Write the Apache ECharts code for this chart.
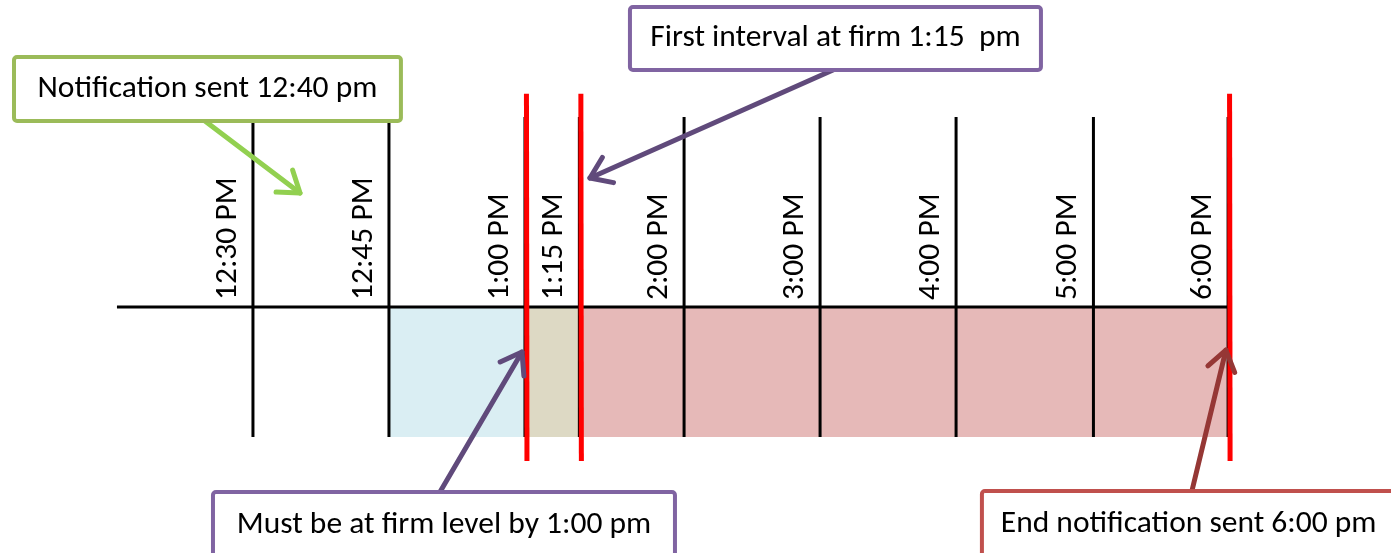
<!DOCTYPE html>
<html><head><meta charset="utf-8">
<script src="https://cdn.jsdelivr.net/npm/echarts@6/dist/echarts.min.js"></script>
<style>html,body{margin:0;padding:0;background:#fff}#c{width:1391px;height:553px}</style>
</head><body><div id="c"></div>
<script>
// ---- data ----
const tickLabels = ['12:30 PM','12:45 PM','1:00 PM','1:15 PM','2:00 PM','3:00 PM','4:00 PM','5:00 PM','6:00 PM'];
const tickPositions = [1.0, 2.0, 3.0, 3.4, 4.17, 5.17, 6.17, 7.18, 8.17]; // column boundary on the axis scale
const bandFrom = ['12:45 PM','1:00 PM','1:15 PM'];
const bandTo   = ['1:00 PM','1:15 PM','6:00 PM'];
const markerTimes = ['1:00 PM','1:15 PM','6:00 PM'];
const calloutTexts = ['Notification sent 12:40 pm','First interval at firm 1:15  pm','Must be at firm level by 1:00 pm','End notification sent 6:00 pm'];

// ---- layout / style ----
const FONT = '31.5px Carlito, Lato, sans-serif';
const posOf = t => tickPositions[tickLabels.indexOf(t)];
const bandColors = ['#DAEEF3','#DDD9C4','#E6B9B8'];
const lineTop = 1.462, lineBottom = -1.0;
const callouts = [
  {box:[-0.757,1.923,2.088,1.431], from:[0.647,1.431], to:[1.346,0.877], border:'#9BBB59', arrow:'#92D050'},
  {box:[3.772,2.308,6.794,1.823], from:[5.265,1.823], to:[3.478,0.992], border:'#8064A2', arrow:'#604A7B'},
  {box:[0.706,-1.423,4.103,-1.93], from:[2.375,-1.423], to:[2.978,-0.346], border:'#8064A2', arrow:'#604A7B'},
  {box:[6.36,-1.415,9.40,-1.93], from:[7.904,-1.415], to:[8.154,-0.331], border:'#C0504D', arrow:'#953735'}
];

const chart = echarts.init(document.getElementById('c'), null, {renderer:'canvas'});
const option = {
  animation:false,
  grid:{left:0,right:0,top:0,bottom:0},
  xAxis:{type:'value', min:-0.86, max:9.368, show:false},
  yAxis:{type:'value', min:-1.892, max:2.3615, show:false},
  series:[
    { // shaded bands
      type:'custom', z:1,
      data: bandFrom.map((f,i)=>[posOf(f), posOf(bandTo[i]), i]),
      renderItem(params, api){
        const a = api.coord([api.value(0), 0]);
        const b = api.coord([api.value(1), lineBottom]);
        return {type:'rect', shape:{x:a[0], y:a[1], width:b[0]-a[0], height:b[1]-a[1]},
                style:{fill:bandColors[api.value(2)]}};
      }
    },
    { // axis baseline
      type:'custom', z:2,
      data:[[0, tickPositions[tickPositions.length-1]]],
      renderItem(params, api){
        const a = api.coord([api.value(0), 0]);
        const b = api.coord([api.value(1), 0]);
        return {type:'line', shape:{x1:a[0],y1:a[1],x2:b[0]+1,y2:b[1]}, style:{stroke:'#000', lineWidth:3}};
      }
    },
    { // tick lines + rotated labels
      type:'custom', z:3,
      data: tickPositions.map(p=>[p, 0]),
      renderItem(params, api){
        const x = api.value(0);
        const t = api.coord([x, lineTop]);
        const b = api.coord([x, lineBottom]);
        const base = api.coord([x, 0]);
        return {type:'group', children:[
          {type:'line', shape:{x1:t[0],y1:t[1],x2:b[0],y2:b[1]}, style:{stroke:'#000', lineWidth:3}},
          {type:'text', x:base[0]-25, y:base[1]-7, rotation:Math.PI/2,
           style:{text:tickLabels[params.dataIndex], x:0, y:0, fill:'#000', font:FONT, align:'left', verticalAlign:'middle'}}
        ]};
      }
    },
    { // red marker lines
      type:'custom', z:4,
      data: markerTimes.map(t=>[posOf(t), 0]),
      renderItem(params, api){
        const x = api.value(0);
        const t = api.coord([x, 1.64]);
        const b = api.coord([x, -1.185]);
        return {type:'line', shape:{x1:t[0]+1.5,y1:t[1],x2:b[0]+2,y2:b[1]}, style:{stroke:'#FF0000', lineWidth:5}};
      }
    },
    { // callouts
      type:'custom', z:5,
      data: calloutTexts.map((t,i)=>[i, 0]),
      renderItem(params, api){
        const c = callouts[params.dataIndex];
        const p0 = api.coord([c.box[0], c.box[1]]);
        const p1 = api.coord([c.box[2], c.box[3]]);
        const s = api.coord(c.from), e = api.coord(c.to);
        const dx = e[0]-s[0], dy = e[1]-s[1], len = Math.hypot(dx,dy);
        const ux = dx/len, uy = dy/len, L = 24, th = 35*Math.PI/180;
        const arm = sgn => {
          const c2 = Math.cos(th), s2 = Math.sin(th)*sgn;
          const rx = ux*c2 - uy*s2, ry = ux*s2 + uy*c2;
          return [e[0]-rx*L, e[1]-ry*L];
        };
        return {type:'group', children:[
          {type:'line', shape:{x1:s[0],y1:s[1],x2:e[0],y2:e[1]}, style:{stroke:c.arrow, lineWidth:5, lineCap:'round'}},
          {type:'polyline', shape:{points:[arm(1), e, arm(-1)]}, style:{stroke:c.arrow, fill:null, lineWidth:5, lineCap:'round', lineJoin:'round'}},
          {type:'rect', shape:{x:p0[0], y:p0[1], width:p1[0]-p0[0], height:p1[1]-p0[1], r:3},
           style:{fill:'#fff', stroke:c.border, lineWidth:4}},
          {type:'text', x:(p0[0]+p1[0])/2, y:(p0[1]+p1[1])/2,
           style:{text:calloutTexts[params.dataIndex], x:0, y:0, fill:'#000', font:FONT, align:'center', verticalAlign:'middle'}}
        ]};
      }
    }
  ]
};
chart.setOption(option);
</script>
</body></html>
